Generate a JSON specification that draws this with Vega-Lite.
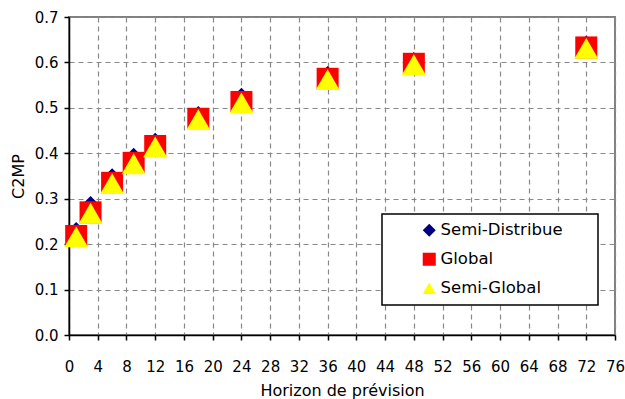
{
  "$schema": "https://vega.github.io/schema/vega-lite/v6.json",
  "autosize": "none",
  "width": 546,
  "height": 318,
  "padding": {"left": 69, "top": 17, "right": 10, "bottom": 64},
  "background": "white",
  "config": {
    "font": "DejaVu Sans",
    "view": {"stroke": "#808080", "strokeWidth": 2},
    "axis": {
      "labelFont": "DejaVu Sans",
      "labelFontSize": 15,
      "labelColor": "black",
      "titleFont": "DejaVu Sans",
      "titleFontSize": 16,
      "titleFontWeight": "normal",
      "titleColor": "black",
      "domainColor": "black",
      "domainWidth": 1.5,
      "tickColor": "black",
      "tickWidth": 1.5,
      "tickSize": 5,
      "gridColor": "#888888",
      "gridDash": [5, 4],
      "gridWidth": 1.2,
      "gridOpacity": 1
    },
    "legend": {
      "titleOrient": "right",
      "orient": "none",
      "legendX": 313,
      "legendY": 197,
      "padding": 8,
      "symbolOffset": 31,
      "symbolSize": 170,
      "labelOffset": 3,
      "labelFont": "DejaVu Sans",
      "labelFontSize": 16.5,
      "labelColor": "black",
      "rowPadding": 12,
      "strokeColor": "black",
      "fillColor": "white",
      "symbolStrokeWidth": 0,
      "symbolOpacity": 1,
      "labelLimit": 300
    }
  },
  "data": {
    "values": [
      {"h": 1, "series": "Semi-Distribue", "c2mp": 0.227},
      {"h": 3, "series": "Semi-Distribue", "c2mp": 0.284},
      {"h": 6, "series": "Semi-Distribue", "c2mp": 0.345},
      {"h": 9, "series": "Semi-Distribue", "c2mp": 0.39},
      {"h": 12, "series": "Semi-Distribue", "c2mp": 0.423},
      {"h": 18, "series": "Semi-Distribue", "c2mp": 0.482},
      {"h": 24, "series": "Semi-Distribue", "c2mp": 0.522},
      {"h": 36, "series": "Semi-Distribue", "c2mp": 0.57},
      {"h": 48, "series": "Semi-Distribue", "c2mp": 0.601},
      {"h": 72, "series": "Semi-Distribue", "c2mp": 0.637},
      {"h": 1, "series": "Global", "c2mp": 0.218},
      {"h": 3, "series": "Global", "c2mp": 0.27},
      {"h": 6, "series": "Global", "c2mp": 0.335},
      {"h": 9, "series": "Global", "c2mp": 0.379},
      {"h": 12, "series": "Global", "c2mp": 0.416},
      {"h": 18, "series": "Global", "c2mp": 0.476},
      {"h": 24, "series": "Global", "c2mp": 0.513},
      {"h": 36, "series": "Global", "c2mp": 0.564},
      {"h": 48, "series": "Global", "c2mp": 0.597},
      {"h": 72, "series": "Global", "c2mp": 0.633},
      {"h": 1, "series": "Semi-Global", "c2mp": 0.216},
      {"h": 3, "series": "Semi-Global", "c2mp": 0.268},
      {"h": 6, "series": "Semi-Global", "c2mp": 0.333},
      {"h": 9, "series": "Semi-Global", "c2mp": 0.377},
      {"h": 12, "series": "Semi-Global", "c2mp": 0.414},
      {"h": 18, "series": "Semi-Global", "c2mp": 0.474},
      {"h": 24, "series": "Semi-Global", "c2mp": 0.511},
      {"h": 36, "series": "Semi-Global", "c2mp": 0.562},
      {"h": 48, "series": "Semi-Global", "c2mp": 0.595},
      {"h": 72, "series": "Semi-Global", "c2mp": 0.631}
    ]
  },
  "encoding": {
    "x": {
      "field": "h",
      "type": "quantitative",
      "title": "Horizon de prévision",
      "scale": {"domain": [0, 76], "nice": false, "zero": true},
      "axis": {
        "values": [0, 4, 8, 12, 16, 20, 24, 28, 32, 36, 40, 44, 48, 52, 56, 60, 64, 68, 72, 76],
        "labelPadding": 19,
        "titlePadding": 8,
        "labelFlush": false,
        "labelOverlap": false
      }
    },
    "y": {
      "field": "c2mp",
      "type": "quantitative",
      "title": "C2MP",
      "scale": {"domain": [0, 0.7], "nice": false},
      "axis": {
        "values": [0, 0.1, 0.2, 0.3, 0.4, 0.5, 0.6, 0.7],
        "format": ".1f",
        "labelPadding": 6,
        "titlePadding": 8,
        "labelFlush": false
      }
    },
    "shape": {
      "field": "series",
      "type": "nominal",
      "scale": {
        "domain": ["Semi-Distribue", "Global", "Semi-Global"],
        "range": ["diamond", "square", "triangle-up"]
      },
      "legend": {
        "title": "\u00a0",
        "titleOrient": "right",
        "titlePadding": 27,
        "encode": {
          "legend": {"update": {"strokeWidth": {"value": 1.5}}},
          "symbols": {"update": {"size": {"value": 170}}}
        }
      }
    },
    "color": {
      "field": "series",
      "type": "nominal",
      "scale": {
        "domain": ["Semi-Distribue", "Global", "Semi-Global"],
        "range": ["#000080", "#FF0000", "#FFFF00"]
      },
      "legend": {
        "title": "\u00a0",
        "titleOrient": "right",
        "titlePadding": 27,
        "encode": {
          "legend": {"update": {"strokeWidth": {"value": 1.5}}},
          "symbols": {"update": {"size": {"value": 170}}}
        }
      }
    }
  },
  "layer": [
    {
      "transform": [{"filter": "datum.series === 'Semi-Distribue'"}],
      "mark": {"type": "point", "filled": true, "opacity": 1, "size": 400}
    },
    {
      "transform": [{"filter": "datum.series === 'Global'"}],
      "mark": {"type": "point", "filled": true, "opacity": 1, "size": 484}
    },
    {
      "transform": [{"filter": "datum.series === 'Semi-Global'"}],
      "mark": {"type": "point", "filled": true, "opacity": 1, "size": 576}
    }
  ]
}
